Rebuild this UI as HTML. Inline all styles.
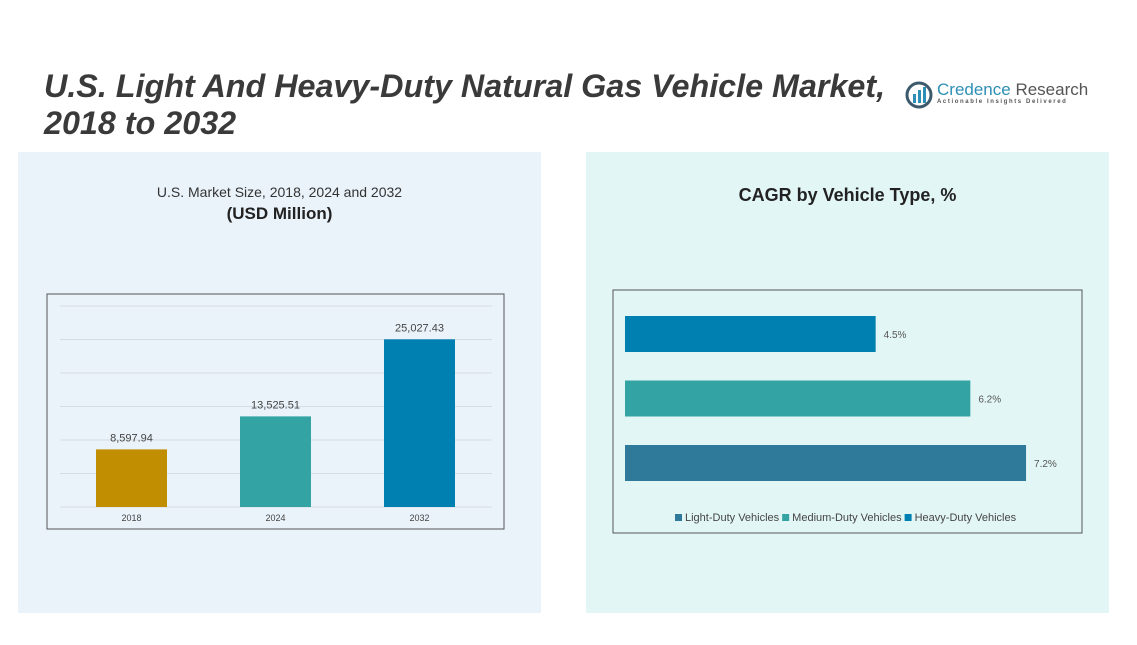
<!DOCTYPE html>
<html><head><meta charset="utf-8"><style>
body{margin:0;width:1137px;height:645px;background:#fff;font-family:"Liberation Sans",sans-serif;position:relative;overflow:hidden}
.abs{position:absolute}
</style></head><body>
<div class="abs" style="left:44px;top:68px;font-size:32.3px;font-weight:bold;font-style:italic;color:#3a3a3a;line-height:37px">U.S. Light And Heavy-Duty Natural Gas Vehicle Market,<br>2018 to 2032</div>
<div class="abs" style="left:905px;top:78px;width:180px;height:32px">
<svg width="30" height="30" style="position:absolute;left:0;top:2px"><circle cx="14" cy="15" r="12" fill="none" stroke="#3d5a6c" stroke-width="3"/><rect x="8" y="14" width="3" height="9" fill="#2d8fb5"/><rect x="13" y="10" width="3" height="13" fill="#2d8fb5"/><rect x="18" y="7" width="3" height="16" fill="#2d8fb5"/></svg>
<div style="position:absolute;left:32px;top:2px;font-size:17px;color:#2d8fb5;white-space:nowrap">Credence <span style="color:#555">Research</span></div>
<div style="position:absolute;left:32px;top:21px;font-size:6px;letter-spacing:1.6px;color:#555;white-space:nowrap;font-weight:bold">Actionable Insights Delivered</div>
</div>
<div class="abs" style="left:18px;top:152px;width:523px;height:461px;background:#eaf3fa"></div>
<div class="abs" style="left:586px;top:152px;width:523px;height:461px;background:#e3f6f6"></div>
<div class="abs" style="left:18px;top:184px;width:523px;text-align:center;font-size:14px;color:#333">U.S. Market Size, 2018, 2024 and 2032</div>
<div class="abs" style="left:18px;top:204px;width:523px;text-align:center;font-size:17px;font-weight:bold;color:#222">(USD Million)</div>
<div class="abs" style="left:586px;top:185px;width:523px;text-align:center;font-size:18px;font-weight:bold;color:#222">CAGR by Vehicle Type, %</div>
<svg class="abs" style="left:0;top:0" width="1137" height="645" id="svg"></svg>
<script>
const years=["2018","2024","2032"];
const sizes=[8597.94,13525.51,25027.43];
const sizeLabels=["8,597.94","13,525.51","25,027.43"];
const barColors=["#c08e00","#33a3a3","#0080b0"];
const types=["Heavy-Duty Vehicles","Medium-Duty Vehicles","Light-Duty Vehicles"];
const cagr=[4.5,6.2,7.2];
const cagrColors=["#0080b0","#33a3a3","#2f7a9a"];
const legendNames=["Light-Duty Vehicles","Medium-Duty Vehicles","Heavy-Duty Vehicles"];
const legendColors=["#2f7a9a","#33a3a3","#0080b0"];
const gridVals=[0,5000,10000,15000,20000,25000,30000];
const NS="http://www.w3.org/2000/svg";
const svg=document.getElementById('svg');
function mk(t,a,p){const e=document.createElementNS(NS,t);for(const k in a)e.setAttribute(k,a[k]);(p||svg).appendChild(e);return e;}
const fr=mk('rect',{x:47,y:294,width:457,height:235,fill:'none',stroke:'#555','stroke-width':1});


const y0=507,ymax=30000,ph=201;
const yS=v=>y0-v/ymax*ph;
gridVals.forEach(v=>{const l=mk('line',{x1:60,x2:492,y1:yS(v),y2:yS(v),stroke:'#d5dde3','stroke-width':1});

});
const cx=i=>131.5+i*144;
years.forEach((yr,i)=>{
const r=mk('rect',{x:cx(i)-35.5,y:yS(sizes[i]),width:71,height:y0-yS(sizes[i]),fill:barColors[i]});


const t=mk('text',{x:cx(i),y:yS(sizes[i])-8,'text-anchor':'middle','font-size':11,fill:'#444'});t.textContent=sizeLabels[i];


const x=mk('text',{x:cx(i),y:521,'text-anchor':'middle','font-size':9,fill:'#444'});x.textContent=yr;


});
const fr2=mk('rect',{x:613,y:290,width:469,height:243,fill:'none',stroke:'#555','stroke-width':1});


const xS=v=>625+v*55.7;
types.forEach((ty,i)=>{
const y=316+i*64.5;
const r=mk('rect',{x:625,y:y,width:xS(cagr[i])-625,height:36,fill:cagrColors[i]});


const t=mk('text',{x:xS(cagr[i])+8,y:y+22,'font-size':10,fill:'#555'});t.textContent=cagr[i]+'%';


});
let lx=675;
legendNames.forEach((n,i)=>{
const s=mk('rect',{x:lx,y:514,width:7,height:7,fill:legendColors[i]});


const t=mk('text',{x:lx+10,y:521,'font-size':11,fill:'#444'});t.textContent=n;


lx+=10+t.getComputedTextLength()+3;
});
</script>
</body></html>
